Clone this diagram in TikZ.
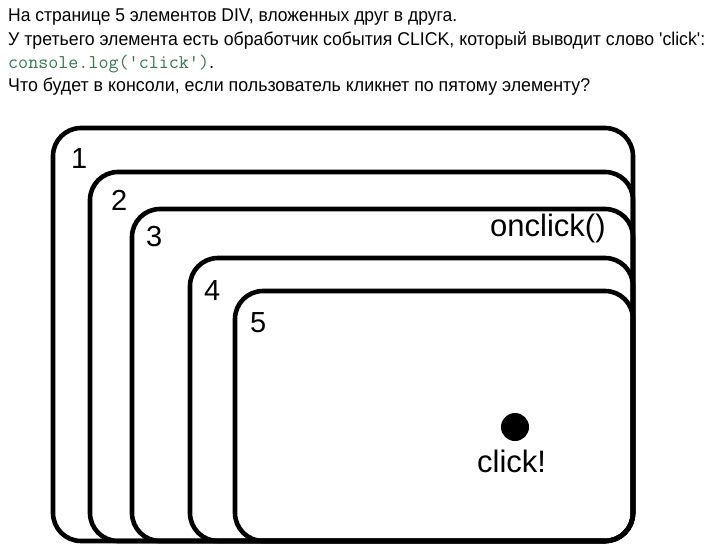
\documentclass[tikz,border=0pt]{standalone}
\usepackage{fontspec}
\usepackage{graphicx}
\setmainfont{Liberation Sans}
\definecolor{codegreen}{RGB}{52,120,80}
\begin{document}
\begin{tikzpicture}[x=1pt,y=-1pt,
  divbox/.style={draw=black,line width=4.6pt,rounded corners=28pt},
  headline/.style={anchor=base west,inner sep=0pt,font=\fontsize{18.5}{20}\selectfont},
  numlabel/.style={anchor=base west,inner sep=0pt,font=\fontsize{29}{32}\selectfont},
  biglabel/.style={anchor=base west,inner sep=0pt,font=\fontsize{31}{34}\selectfont}]
\useasboundingbox[fill=white] (0,0) rectangle (712,554);
% question text
\node[headline] (q1) at (8,22) {\resizebox{449pt}{\height}{На странице 5 элементов DIV, вложенных друг в друга.}};
\node[headline] (q2) at (8,45) {\resizebox{697pt}{\height}{У третьего элемента есть обработчик события CLICK, который выводит слово \textquotesingle click\textquotesingle:}};
\node[anchor=base west,inner sep=0pt,font=\fontsize{19.5}{22}\selectfont] (q3) at (8,68) {{\ttfamily\color{codegreen}console.log(\textquotesingle click\textquotesingle)}\fontsize{18.5}{20}\selectfont.};
\node[headline] (q4) at (8,91) {\resizebox{582pt}{\height}{Что будет в консоли, если пользователь кликнет по пятому элементу?}};
% nested DIVs
\draw[divbox] (53,128) rectangle (633,541);
\draw[divbox] (90,172) rectangle (633,541);
\draw[divbox] (132,209) rectangle (633,541);
\draw[divbox] (190,258) rectangle (633,541);
\draw[divbox] (235,291) rectangle (633,541);
% labels
\node[numlabel] (n1) at (71,168) {1};
\node[numlabel] (n2) at (111,210) {2};
\node[numlabel] (n3) at (146,246) {3};
\node[numlabel] (n4) at (204,300) {4};
\node[numlabel] (n5) at (250,332) {5};
\node[biglabel] (onclick) at (490,236) {onclick()};
\fill (515,427) circle[radius=14];
\node[biglabel] (click) at (477,472) {click!};
\end{tikzpicture}
\end{document}
